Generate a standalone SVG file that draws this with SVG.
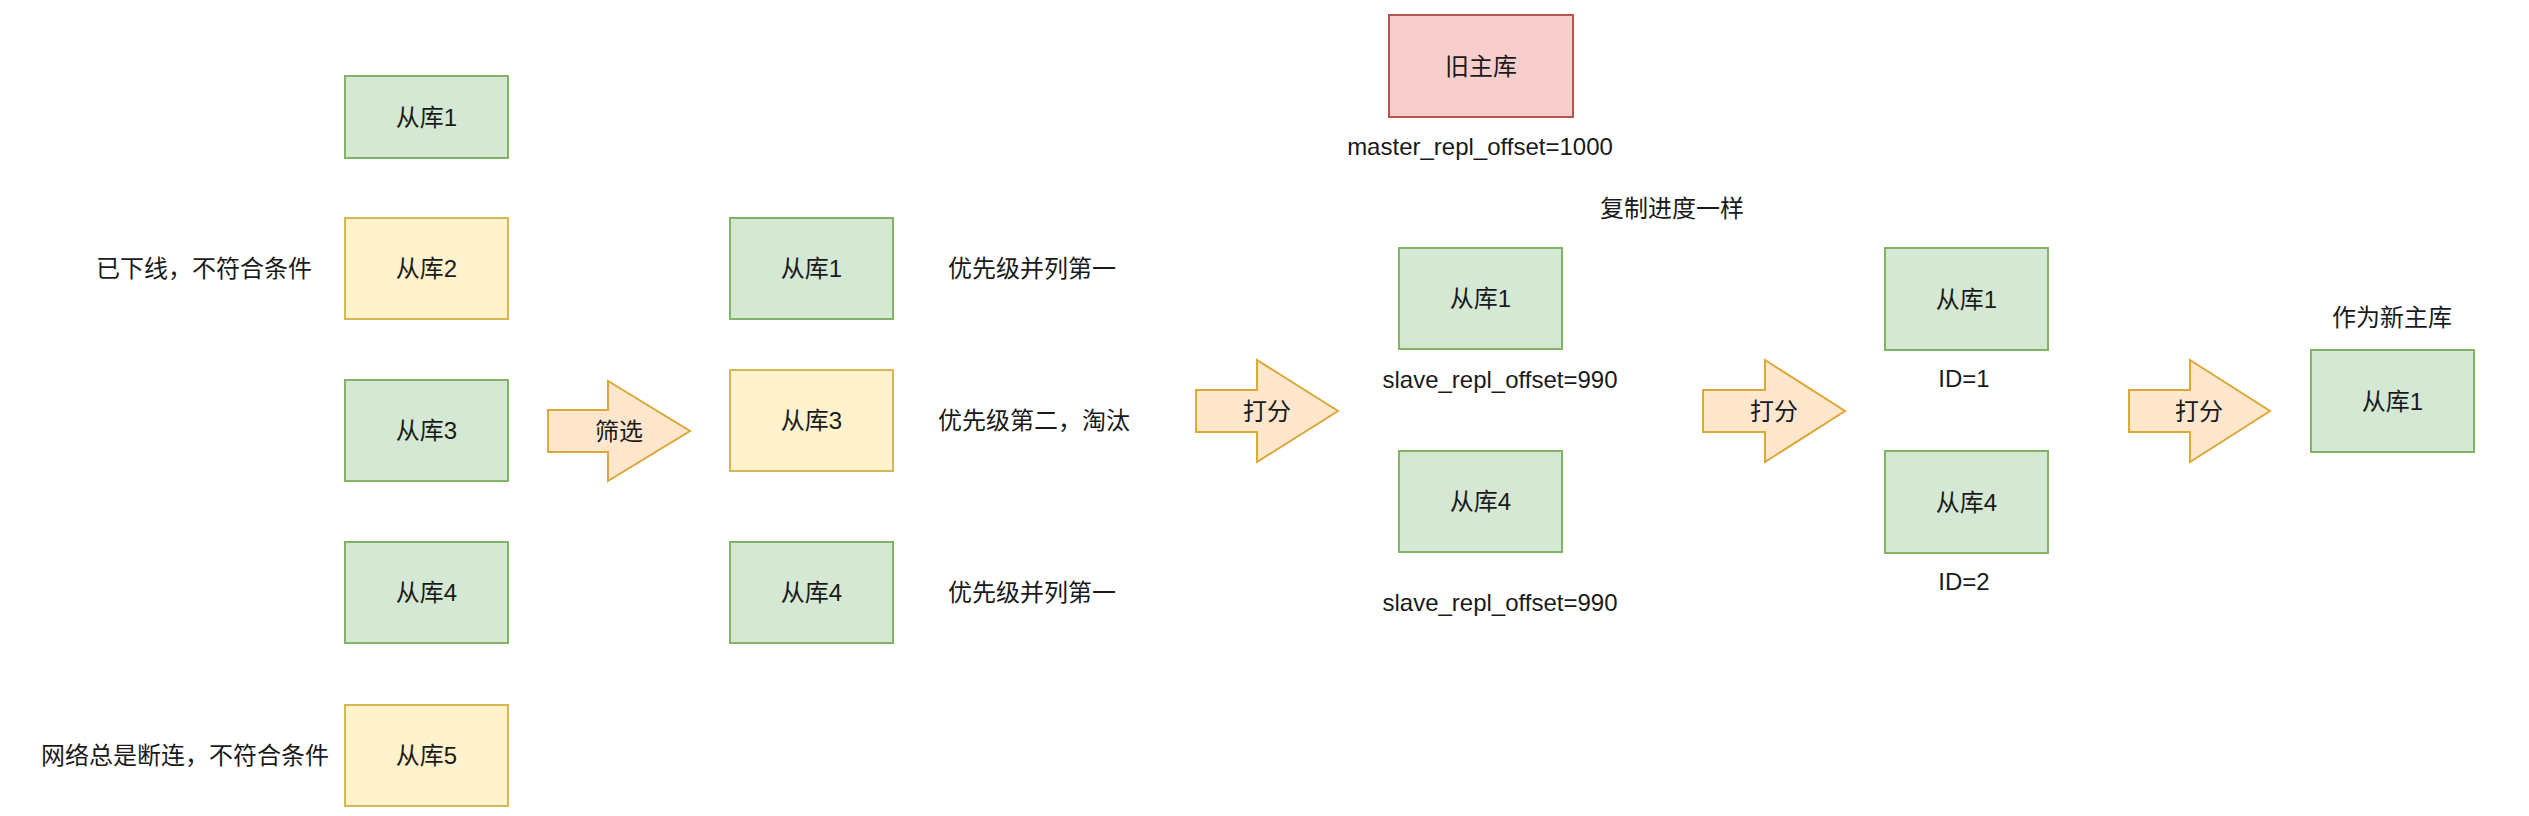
<svg xmlns="http://www.w3.org/2000/svg" width="2529" height="816" viewBox="0 0 2529 816">
<style>
text{font-family:"Liberation Sans","Noto Sans CJK SC",sans-serif;font-size:24px;fill:#1a1a1a;dominant-baseline:central}
.c{text-anchor:middle}
.e{text-anchor:end}
.g{fill:#d5e8d4;stroke:#82b366;stroke-width:2}
.y{fill:#fff2cc;stroke:#d6b656;stroke-width:2}
.r{fill:#f8cecc;stroke:#b85450;stroke-width:2}
.a{fill:#ffe6cc;stroke:#dca836;stroke-width:2;stroke-linejoin:miter}
</style>
<rect width="2529" height="816" fill="#ffffff"/>
<g id="col1-s1"><rect class="g" x="345" y="76" width="163" height="82"/><text class="c" x="426.5" y="117">从库1</text></g>
<g id="col1-s2"><rect class="y" x="345" y="218" width="163" height="101"/><text class="c" x="426.5" y="268.5">从库2</text></g>
<g id="col1-s3"><rect class="g" x="345" y="380" width="163" height="101"/><text class="c" x="426.5" y="430.5">从库3</text></g>
<g id="col1-s4"><rect class="g" x="345" y="542" width="163" height="101"/><text class="c" x="426.5" y="592.5">从库4</text></g>
<g id="col1-s5"><rect class="y" x="345" y="705" width="163" height="101"/><text class="c" x="426.5" y="755.5">从库5</text></g>
<g id="note-offline"><text class="e" x="312" y="268">已下线，不符合条件</text></g>
<g id="note-network"><text class="e" x="329" y="755">网络总是断连，不符合条件</text></g>
<g id="arrow-filter"><path class="a" d="M548,410 L608,410 L608,381 L690,431 L608,481 L608,452 L548,452 Z"/><text class="c" x="619" y="431">筛选</text></g>
<g id="col2-s1"><rect class="g" x="730" y="218" width="163" height="101"/><text class="c" x="811.5" y="268.5">从库1</text></g>
<g id="col2-s3"><rect class="y" x="730" y="370" width="163" height="101"/><text class="c" x="811.5" y="420.5">从库3</text></g>
<g id="col2-s4"><rect class="g" x="730" y="542" width="163" height="101"/><text class="c" x="811.5" y="592.5">从库4</text></g>
<g id="note-p1"><text class="c" x="1032" y="268">优先级并列第一</text></g>
<g id="note-p2"><text class="c" x="1034" y="420">优先级第二，淘汰</text></g>
<g id="note-p3"><text class="c" x="1032" y="592">优先级并列第一</text></g>
<g id="arrow-score1"><path class="a" d="M1196,390 L1257,390 L1257,360 L1338,411 L1257,462 L1257,432 L1196,432 Z"/><text class="c" x="1267" y="411">打分</text></g>
<g id="old-master"><rect class="r" x="1389" y="15" width="184" height="102"/><text class="c" x="1481" y="66">旧主库</text></g>
<g id="note-master-offset"><text class="c" x="1480" y="146">master_repl_offset=1000</text></g>
<g id="note-same"><text class="c" x="1672" y="208">复制进度一样</text></g>
<g id="col3-s1"><rect class="g" x="1399" y="248" width="163" height="101"/><text class="c" x="1480.5" y="298.5">从库1</text></g>
<g id="note-off1"><text class="c" x="1500" y="379">slave_repl_offset=990</text></g>
<g id="col3-s4"><rect class="g" x="1399" y="451" width="163" height="101"/><text class="c" x="1480.5" y="501.5">从库4</text></g>
<g id="note-off2"><text class="c" x="1500" y="602">slave_repl_offset=990</text></g>
<g id="arrow-score2"><path class="a" d="M1703,390 L1765,390 L1765,360 L1845,411 L1765,462 L1765,432 L1703,432 Z"/><text class="c" x="1774" y="411">打分</text></g>
<g id="col4-s1"><rect class="g" x="1885" y="248" width="163" height="102"/><text class="c" x="1966.5" y="299">从库1</text></g>
<g id="note-id1"><text class="c" x="1964" y="378">ID=1</text></g>
<g id="col4-s4"><rect class="g" x="1885" y="451" width="163" height="102"/><text class="c" x="1966.5" y="502">从库4</text></g>
<g id="note-id2"><text class="c" x="1964" y="581">ID=2</text></g>
<g id="arrow-score3"><path class="a" d="M2129,390 L2190,390 L2190,360 L2270,411 L2190,462 L2190,432 L2129,432 Z"/><text class="c" x="2199" y="411">打分</text></g>
<g id="note-new-master"><text class="c" x="2392" y="317">作为新主库</text></g>
<g id="new-master"><rect class="g" x="2311" y="350" width="163" height="102"/><text class="c" x="2392.5" y="401">从库1</text></g>
<g id="connectors"></g>
</svg>
